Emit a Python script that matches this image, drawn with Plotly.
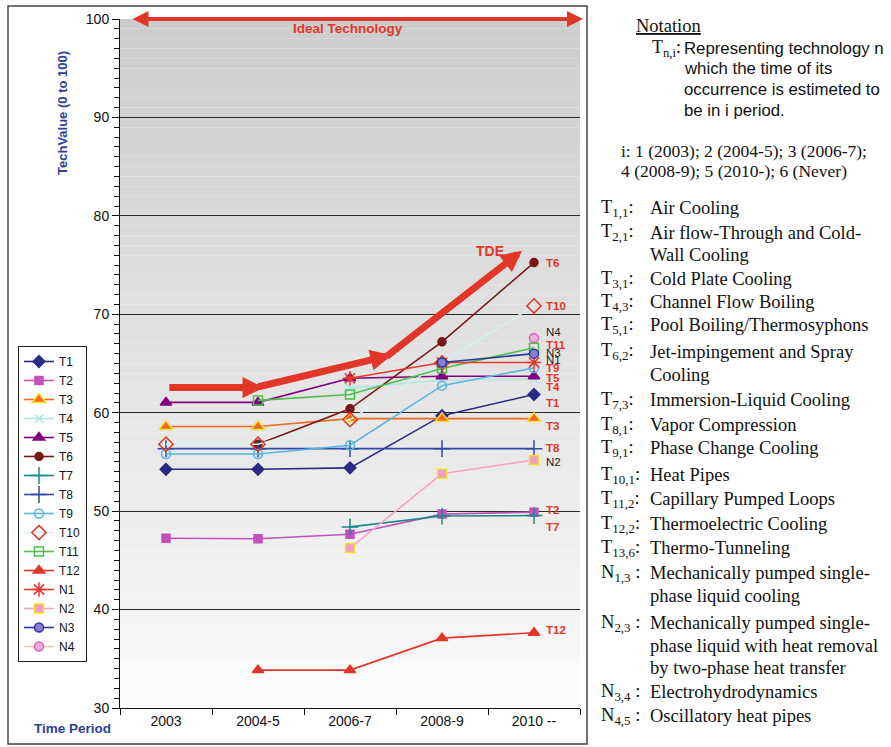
import plotly.graph_objects as go

# ---------------- data ----------------
periods = ["2003", "2004-5", "2006-7", "2008-9", "2010 --"]

names = ["T1", "T2", "T3", "T4", "T5", "T6", "T7", "T8", "T9", "T10",
         "T11", "T12", "N1", "N2", "N3", "N4"]

T1 = [54.25, 54.25, 54.4, 59.7, 61.85]
T2 = [47.25, 47.2, 47.65, 49.7, 49.9]
T3 = [58.6, 58.6, 59.4, 59.4, 59.4]
T4 = [None, None, 62.5, 63.3, 63.4]
T5 = [61.05, 61.05, 63.5, 63.7, 63.7]
T6 = [None, 56.8, 60.4, 67.2, 75.25]
T7 = [None, None, 48.4, 49.5, 49.55]
T8 = [56.35, 56.35, 56.35, 56.35, 56.35]
T9 = [55.8, 55.8, 56.7, 62.75, 64.55]
T10 = [56.8, 56.8, 59.3, 65.05, 70.85]
T11 = [None, 61.25, 61.85, 64.5, 66.6]
T12 = [None, 33.85, 33.85, 37.1, 37.65]
N1 = [None, None, 63.5, 65.1, 65.1]
N2 = [None, None, 46.25, 53.8, 55.2]
N3 = [None, None, None, 65.1, 66.0]
N4 = [None, None, None, None, 67.6]

series = [T1, T2, T3, T4, T5, T6, T7, T8, T9, T10, T11, T12, N1, N2, N3, N4]

# y position (TechValue units) of the name tags written after the last period
end_tag_y = {"T6": 75.2, "T10": 70.8, "N4": 68.2, "T11": 66.9, "N3": 66.1,
             "N1": 65.4, "T9": 64.5, "T5": 63.5, "T4": 62.6, "T1": 61.0,
             "T3": 58.7, "T8": 56.4, "N2": 55.0, "T2": 50.1, "T7": 48.4,
             "T12": 37.9}

y_ticks = [30, 40, 50, 60, 70, 80, 90, 100]

notation_rows = [
    ("T<sub>1,1</sub>:", ["Air Cooling"]),
    ("T<sub>2,1</sub>:", ["Air flow-Through and Cold-", "Wall Cooling"]),
    ("T<sub>3,1</sub>:", ["Cold Plate Cooling"]),
    ("T<sub>4,3</sub>:", ["Channel Flow Boiling"]),
    ("T<sub>5,1</sub>:", ["Pool Boiling/Thermosyphons"]),
    ("T<sub>6,2</sub>:", ["Jet-impingement and Spray", "Cooling"]),
    ("T<sub>7,3</sub>:", ["Immersion-Liquid Cooling"]),
    ("T<sub>8,1</sub>:", ["Vapor Compression"]),
    ("T<sub>9,1</sub>:", ["Phase Change Cooling"]),
    ("T<sub>10,1</sub>:", ["Heat Pipes"]),
    ("T<sub>11,2</sub>:", ["Capillary Pumped Loops"]),
    ("T<sub>12,2</sub>:", ["Thermoelectric Cooling"]),
    ("T<sub>13,6</sub>:", ["Thermo-Tunneling"]),
    ("N<sub>1,3</sub> :", ["Mechanically pumped single-", "phase liquid cooling"]),
    ("N<sub>2,3</sub> :", ["Mechanically pumped single-", "phase liquid with heat removal",
                          "by two-phase heat transfer"]),
    ("N<sub>3,4</sub> :", ["Electrohydrodynamics"]),
    ("N<sub>4,5</sub> :", ["Oscillatory heat pipes"]),
]
# pixel row (from the top) of the first line of each notation entry
notation_row_px = [208, 233, 279, 302, 325, 352, 400, 425, 448, 475, 499, 524,
                   548, 573, 623, 692, 716]

# ---------------- styles ----------------
RED = "#e23628"
BLUE = "#2f3f9f"
INK = "#111111"
SANS = "Liberation Sans, Arial, sans-serif"
SERIF = "Liberation Serif, Times New Roman, serif"

styles = {
    "T1": dict(line="#2b2a84", symbol="diamond", size=9, fill="#2b2a84", edge="#2b2a84"),
    "T2": dict(line="#c44fbf", symbol="square", size=8, fill="#c44fbf", edge="#c44fbf"),
    "T3": dict(line="#f26b1d", symbol="triangle-up", size=12, fill="#f26b1d", edge="#f3e030"),
    "T4": dict(line="#aee6e6", symbol="x-thin", size=9, fill="#aee6e6", edge="#aee6e6"),
    "T5": dict(line="#82007f", symbol="triangle-up", size=10, fill="#82007f", edge="#82007f"),
    "T6": dict(line="#7b1616", symbol="circle", size=8, fill="#7b1616", edge="#7b1616"),
    "T7": dict(line="#178a87", symbol="cross-thin", size=12, fill="#178a87", edge="#178a87"),
    "T8": dict(line="#2f4aa8", symbol="cross-thin", size=12, fill="#2f4aa8", edge="#2f4aa8"),
    "T9": dict(line="#5ab4e0", symbol="circle-open", size=9, fill="#5ab4e0", edge="#5ab4e0"),
    "T10": dict(line="#d4f2f2", symbol="diamond-open", size=11, fill=RED, edge=RED),
    "T11": dict(line="#4dbf4a", symbol="square-open", size=9, fill="#4dbf4a", edge="#4dbf4a"),
    "T12": dict(line=RED, symbol="triangle-up", size=10, fill=RED, edge=RED),
    "N1": dict(line="#e8372c", symbol="asterisk-open", size=12, fill="#e8372c", edge="#e8372c"),
    "N2": dict(line="#f4a5c8", symbol="square", size=9, fill="#f49ac8", edge="#f1e02a"),
    "N3": dict(line="#2838a0", symbol="circle", size=9, fill="#8a7ed6", edge="#2838a0"),
    "N4": dict(line="#f8c9a0", symbol="circle", size=9, fill="#f2b0d8", edge="#d660b8"),
}

# plot-area pixel frame used for placing decorations
PL, PR, PT, PB = 120, 580, 19, 708
W, H = 891, 747


def fx(px):
    return (px - PL) / (PR - PL)


def fy(py):
    return (PB - py) / (PB - PT)


def note(px, py, text, family, size, color=INK, xanchor="left", **kw):
    return dict(xref="paper", yref="paper", x=fx(px), y=fy(py), xanchor=xanchor,
                yanchor="middle", text=text, showarrow=False,
                font=dict(family=family, size=size, color=color), **kw)


fig = go.Figure()

for name, vals in zip(names, series):
    st = styles[name]
    fig.add_trace(go.Scatter(
        x=periods, y=vals, name=name, mode="lines+markers",
        line=dict(color=st["line"], width=1.6),
        marker=dict(symbol=st["symbol"], size=st["size"], color=st["fill"],
                    line=dict(color=st["edge"], width=1.5)),
        connectgaps=False,
    ))

shapes = []
# soft vertical gradient behind the plot (grey at the top, near white at the bottom)
for k in range(70):
    v0 = 30 + k
    v1 = v0 + 1
    mid = (v0 + v1) / 2
    if mid < 35.5:
        c = 251
    else:
        c = int(round(204 + (100 - mid) * 0.66))
    shapes.append(dict(type="rect", xref="paper", yref="y", x0=0, x1=1, y0=v0, y1=v1,
                       fillcolor=f"rgb({c},{c},{c})", line=dict(width=0), layer="below"))

# outer frame around the chart
shapes.append(dict(type="rect", xref="paper", yref="paper",
                   x0=fx(8), x1=fx(587), y0=fy(744), y1=fy(6),
                   line=dict(color="#444444", width=1.5), fillcolor="rgba(0,0,0,0)"))

annotations = []

# Ideal technology double arrow along the top edge
annotations.append(dict(xref="paper", yref="y", x=fx(583), y=100, ax=-(583 - 131), ay=0,
                        showarrow=True, text="", arrowcolor=RED, arrowwidth=4,
                        arrowhead=2, arrowsize=0.8, arrowside="end+start",
                        startarrowhead=2, startarrowsize=0.8))
annotations.append(note(348, 28, "<b>Ideal Technology</b>", SANS, 13.5, RED, xanchor="center"))

# TDE trend arrow, three segments
tde_segments = [
    ((0.02, 62.55), (1.06, 62.55)),
    ((0.99, 62.6), (2.45, 65.85)),
    ((2.38, 65.6), (3.87, 76.45)),
]
for (tx, ty), (hx, hy) in tde_segments:
    annotations.append(dict(xref="x", yref="y", axref="x", ayref="y",
                            x=hx, y=hy, ax=tx, ay=ty, text="", showarrow=True,
                            arrowcolor=RED, arrowwidth=7, arrowhead=2, arrowsize=0.6,
                            standoff=0))
annotations.append(note(490, 251, "<b>TDE</b>", SANS, 14, RED, xanchor="center"))

# name tags after the last period
for name in names:
    is_t = name.startswith("T")
    annotations.append(dict(
        xref="x", yref="y", x=4, y=end_tag_y[name], xshift=10, xanchor="left",
        yanchor="middle", text=f"<b>{name}</b>" if is_t else name, showarrow=False,
        font=dict(family=SANS, size=11.5, color=RED if is_t else "#222222")))

# axis captions
annotations.append(note(63, 113, "<b>TechValue (0 to 100)</b>", SANS, 13, BLUE,
                        xanchor="center", textangle=-90))
annotations.append(note(72, 728, "<b>Time Period</b>", SANS, 13.5, BLUE, xanchor="center"))

# notation panel
annotations.append(note(634, 26, "<u>Notation</u>", SERIF, 18.5))
annotations.append(note(650, 48, "T<sub>n,i</sub>:", SERIF, 18))
desc_lines = ["Representing technology n", "which the time of its",
              "occurrence is estimeted to", "be in i period."]
for i, line in enumerate(desc_lines):
    annotations.append(note(682, 48 + 20.7 * i, line, SANS, 16.8))
for i, line in enumerate(["i: 1 (2003); 2 (2004-5); 3 (2006-7);",
                          "4 (2008-9); 5 (2010-); 6 (Never)"]):
    annotations.append(note(619, 151 + 20 * i, line, SERIF, 17.5))

for (label, lines), py in zip(notation_rows, notation_row_px):
    annotations.append(note(599, py, label, SERIF, 18.5))
    for j, line in enumerate(lines):
        annotations.append(note(648, py + 22.5 * j, line, SERIF, 18.5))

fig.update_layout(
    width=W, height=H,
    margin=dict(l=PL, r=W - PR, t=PT, b=H - PB),
    paper_bgcolor="white", plot_bgcolor="white",
    font=dict(family=SANS, size=14, color=INK),
    showlegend=True,
    legend=dict(x=fx(18), y=fy(346), xanchor="left", yanchor="top",
                bgcolor="white", bordercolor="#222222", borderwidth=1,
                font=dict(family=SANS, size=12, color=INK),
                tracegroupgap=0, itemwidth=30),
    shapes=shapes,
    annotations=annotations,
    xaxis=dict(type="category", categoryorder="array", categoryarray=periods,
               range=[-0.5, 4.5], tickson="boundaries", ticks="outside", ticklen=6,
               tickcolor=INK, showline=True, linecolor=INK, linewidth=1,
               showgrid=False, zeroline=False,
               tickfont=dict(family=SANS, size=14, color=INK)),
    yaxis=dict(range=[30, 100], tickvals=y_ticks, ticks="outside", ticklen=7,
               tickcolor=INK, showline=True, linecolor=INK, linewidth=1,
               showgrid=True, gridcolor="#2a2a2a", gridwidth=1, zeroline=False,
               tickfont=dict(family=SANS, size=14, color=INK),
               minor=dict(dtick=1, ticks="outside", ticklen=5, tickcolor=INK,
                          showgrid=False)),
)

fig.write_html("out.html")
